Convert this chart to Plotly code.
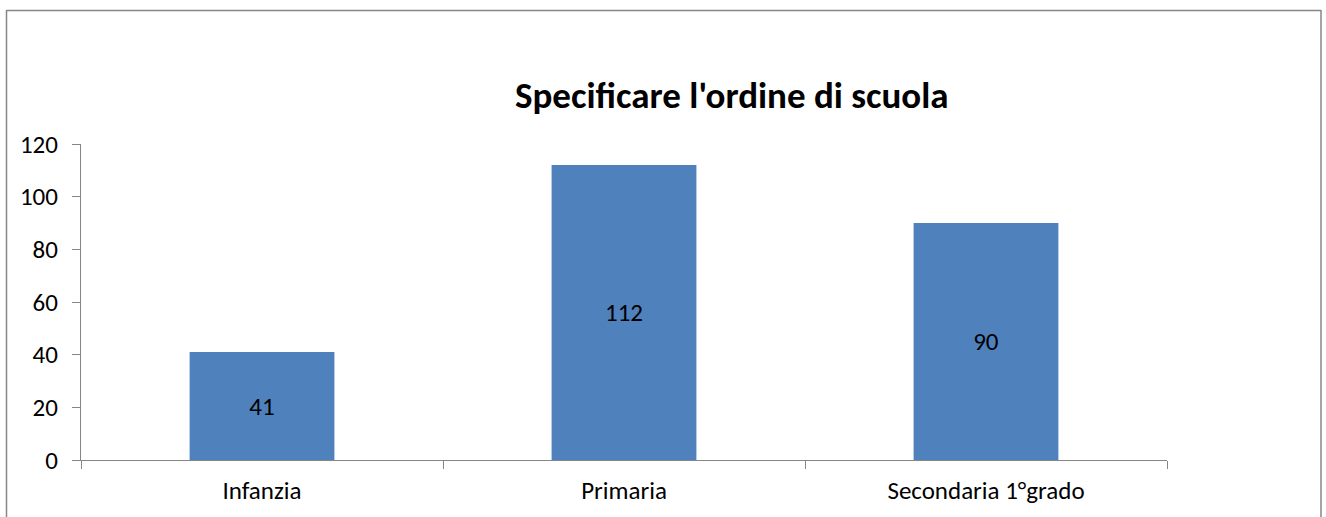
import plotly.graph_objects as go

categories = ["Infanzia", "Primaria", "Secondaria 1°grado"]
values = [41, 112, 90]
y_ticks = [0, 20, 40, 60, 80, 100, 120]
title_text = "Specificare l'ordine di scuola"

W, H = 1326, 517
L, R, T, B = 81, 1167, 144, 460
pw, ph = R - L, B - T

def px(x):
    return (x - L) / pw

def py(y):
    return (B - y) / ph

FONT = "Carlito, Calibri, Lato, sans-serif"
GRAY = "#868686"

fig = go.Figure(go.Bar(
    x=categories, y=values, width=0.4,
    marker=dict(color="#4F81BD", line=dict(width=0)),
    text=[str(v) for v in values], textposition="inside",
    insidetextanchor="middle",
    textfont=dict(family=FONT, size=25, color="#000000"),
    hoverinfo="skip",
))

fig.update_layout(
    width=W, height=H,
    margin=dict(l=L, r=W - R, t=T, b=H - B),
    plot_bgcolor="white", paper_bgcolor="white",
    showlegend=False,
    font=dict(family=FONT, size=25, color="#000000"),
    annotations=[dict(
        text="<b>" + title_text + "</b>", x=px(732), y=py(95),
        xref="paper", yref="paper", showarrow=False,
        xanchor="center", yanchor="middle",
        font=dict(family=FONT, size=37, color="#000000"))],
    shapes=[
        dict(type="line", xref="paper", yref="paper",
             x0=px(6.5), x1=px(6.5), y0=py(H + 5), y1=py(10),
             line=dict(color=GRAY, width=1.5)),
        dict(type="line", xref="paper", yref="paper",
             x0=px(1321), x1=px(1321), y0=py(H + 5), y1=py(10),
             line=dict(color=GRAY, width=1.5)),
        dict(type="line", xref="paper", yref="paper",
             x0=px(6.5), x1=px(1321), y0=py(10.5), y1=py(10.5),
             line=dict(color=GRAY, width=1.5)),
    ],
)

fig.update_xaxes(
    showline=True, linecolor=GRAY, linewidth=1.2,
    ticks="outside", tickson="boundaries", ticklen=8, tickcolor=GRAY, tickwidth=1.2,
    showgrid=False, tickfont=dict(family=FONT, size=25, color="#000000"),
    range=[-0.5, 2.5], ticklabelstandoff=8,
)
fig.update_yaxes(
    range=[0, 120], tickvals=y_ticks, showline=True, linecolor=GRAY, linewidth=1.2,
    ticks="outside", ticklen=8, tickcolor=GRAY, tickwidth=1.2,
    showgrid=False, zeroline=False, ticklabelstandoff=9,
    tickfont=dict(family=FONT, size=25, color="#000000"),
)

fig.write_html(
    "out.html",
    config={"displayModeBar": False},
    post_script="document.body.style.margin='0';document.body.style.overflow='hidden';",
)
